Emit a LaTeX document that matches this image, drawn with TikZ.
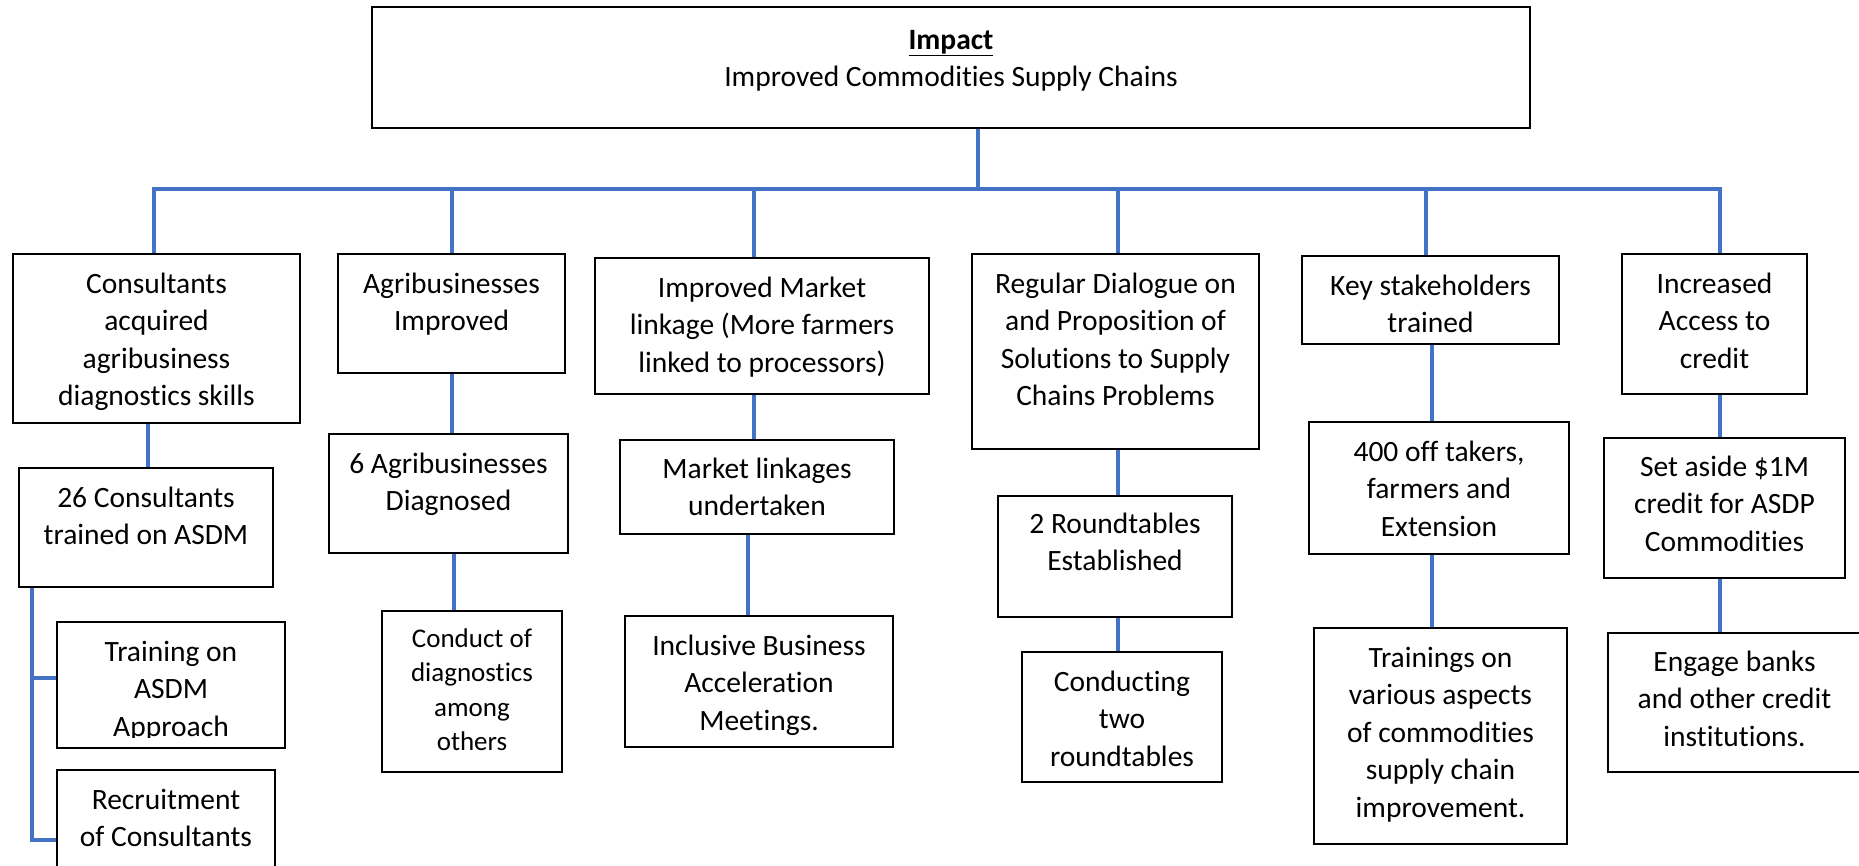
\documentclass[tikz,border=0pt]{standalone}
\usepackage{fontspec}
\setmainfont{Carlito}[Ligatures=NoCommon]
\usetikzlibrary{fit,backgrounds}
\definecolor{conblue}{HTML}{4472C4}
\tikzset{
  box/.style={draw=black, line width=1.7pt, inner sep=0pt},
  midbox/.style={box, line width=2.2pt},
  thickbox/.style={box, line width=2.8pt},
  txt/.style={align=center, anchor=north, inner sep=0pt, font=\fontsize{29.5}{37.5}\selectfont},
  smalltxt/.style={align=center, anchor=north, inner sep=0pt, font=\fontsize{27}{34.5}\selectfont},
  conn/.style={draw=conblue, line width=3.5pt},
}
\newcommand\btext[4]{\node[txt] (#1) at (#2,{#3-26.25}) {\strut #4};}
\begin{document}
\begin{tikzpicture}[x=1pt,y=-1pt]
\path[use as bounding box] (0,0) rectangle (1859,866);
\clip (0,0) rectangle (1859,866);

% ---------- boxes ----------
\node[midbox, fit={(372,7) (1530,128)}] (top) {};
\node[box, fit={(13,254) (300,423)}] (b1) {};
\node[box, fit={(19,468) (273,587)}] (c1) {};
\node[midbox, fit={(57,622) (285,748)}] (tr) {};
\node[midbox, fit={(57,770) (275,890)}] (rec) {};
\node[box, fit={(338,254) (565,373)}] (b2) {};
\node[box, fit={(329,434) (568,553)}] (d2) {};
\node[box, fit={(382,611) (562,772)}] (e2) {};
\node[thickbox, fit={(595,258) (929,394)}] (b3) {};
\node[midbox, fit={(620,440) (894,534)}] (d3) {};
\node[thickbox, fit={(625,616) (893,747)}] (e3) {};
\node[box, fit={(972,254) (1259,449)}] (b4) {};
\node[midbox, fit={(998,496) (1232,617)}] (d4) {};
\node[thickbox, fit={(1022,652) (1222,782)}] (e4) {};
\node[thickbox, fit={(1302,256) (1559,344)}] (b5) {};
\node[thickbox, fit={(1309,422) (1569,554)}] (d5) {};
\node[thickbox, fit={(1314,628) (1567,844)}] (e5) {};
\node[midbox, fit={(1622,254) (1807,394)}] (b6) {};
\node[box, fit={(1604,438) (1845,578)}] (d6) {};
\node[box, fit={(1608,633) (1861,772)}] (e6) {};

% ---------- texts ----------
\btext{topt}{951}{49}{\textbf{\underline{Impact}}\\Improved Commodities Supply Chains}
\btext{b1t}{156.5}{293}{Consultants\\acquired\\agribusiness\\diagnostics skills}
\btext{c1t}{146}{507}{26 Consultants\\trained on ASDM}
\begin{scope}
  \clip (57,622) rectangle (285,737);
  \btext{trt}{171}{661}{Training on\\ASDM\\Approach}
\end{scope}
\btext{rect}{166}{809}{Recruitment\\of Consultants}
\btext{b2t}{451.5}{293}{Agribusinesses\\Improved}
\btext{d2t}{448.5}{473}{6 Agribusinesses\\Diagnosed}
\node[smalltxt] (e2t) at (472,{647-24.15}) {\strut Conduct of\\diagnostics\\among\\others};
\btext{b3t}{762}{297}{Improved Market\\linkage (More farmers\\linked to processors)}
\btext{d3t}{757}{478}{Market linkages\\undertaken}
\begin{scope}
  \clip (625,616) rectangle (893,735);
  \btext{e3t}{759}{655}{Inclusive Business\\Acceleration\\Meetings.}
\end{scope}
\btext{b4t}{1115.5}{293}{Regular Dialogue on\\and Proposition of\\Solutions to Supply\\Chains Problems}
\btext{d4t}{1115}{533}{2 Roundtables\\Established}
\btext{e4t}{1122}{691}{Conducting\\two\\roundtables}
\btext{b5t}{1430.5}{295}{Key stakeholders\\trained}
\btext{d5t}{1439}{461}{400 off takers,\\farmers and\\Extension}
\btext{e5t}{1440.5}{667}{Trainings on\\various aspects\\of commodities\\supply chain\\improvement.}
\btext{b6t}{1714.5}{293}{Increased\\Access to\\credit}
\btext{d6t}{1724.5}{476}{Set aside \$1M\\credit for ASDP\\Commodities}
\btext{e6t}{1734.5}{671}{Engage banks\\and other credit\\institutions.}

% ---------- connectors ----------
\begin{scope}[on background layer]
\coordinate (j0) at (978,189);
\coordinate (j1) at (154,189);
\coordinate (j2) at (452,189);
\coordinate (j3) at (754,189);
\coordinate (j4) at (1118,189);
\coordinate (j5) at (1426,189);
\coordinate (j6) at (1720,189);
\draw[conn] (top.south -| j0) -- (j0);
\draw[conn] (b1.north -| j1) -- (j1) -- (j6) -- (b6.north -| j6);
\draw[conn] (j2) -- (b2.north -| j2);
\draw[conn] (j3) -- (b3.north -| j3);
\draw[conn] (j4) -- (b4.north -| j4);
\draw[conn] (j5) -- (b5.north -| j5);

\coordinate (v1) at (148,0);
\coordinate (v2) at (452,0);
\coordinate (w2) at (454,0);
\coordinate (v3) at (754,0);
\coordinate (w3) at (748,0);
\coordinate (v4) at (1118,0);
\coordinate (v5) at (1432,0);
\coordinate (v6) at (1720,0);
\draw[conn] (b1.south -| v1) -- (c1.north -| v1);
\draw[conn] (b2.south -| v2) -- (d2.north -| v2);
\draw[conn] (d2.south -| w2) -- (e2.north -| w2);
\draw[conn] (b3.south -| v3) -- (d3.north -| v3);
\draw[conn] (d3.south -| w3) -- (e3.north -| w3);
\draw[conn] (b4.south -| v4) -- (d4.north -| v4);
\draw[conn] (d4.south -| v4) -- (e4.north -| v4);
\draw[conn] (b5.south -| v5) -- (d5.north -| v5);
\draw[conn] (d5.south -| v5) -- (e5.north -| v5);
\draw[conn] (b6.south -| v6) -- (d6.north -| v6);
\draw[conn] (d6.south -| v6) -- (e6.north -| v6);

\coordinate (ka) at (32,678);
\coordinate (kb) at (32,840);
\draw[conn] (c1.south -| kb) -- (kb) -- (kb -| rec.west);
\draw[conn] (ka) -- (ka -| tr.west);
\end{scope}
\end{tikzpicture}
\end{document}
